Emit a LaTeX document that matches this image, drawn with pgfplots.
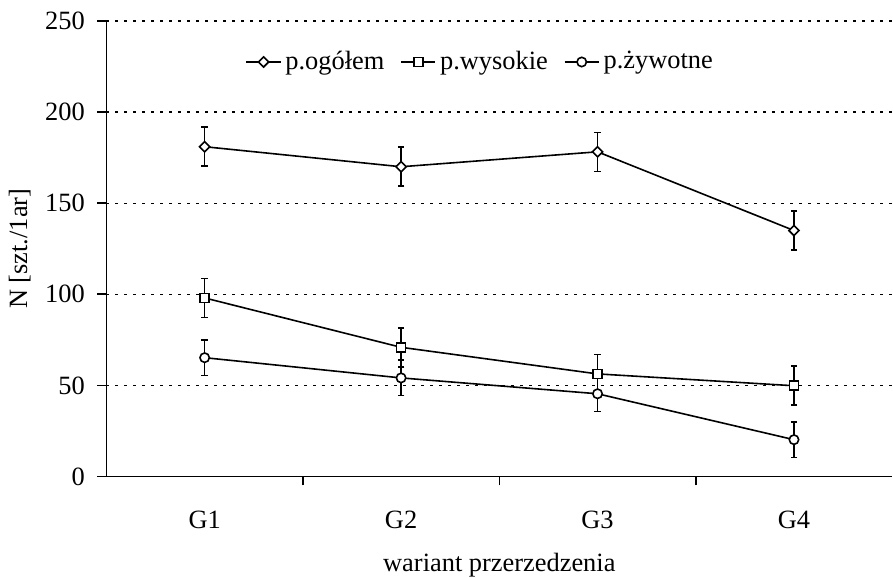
\documentclass[border=0pt]{standalone}
\usepackage{fontspec}
\setmainfont{Liberation Serif}
\usepackage{pgfplots}
\pgfplotsset{compat=1.18}
\usepackage{pgfplotstable}
\pgfplotstableread{
x y e
1 181.0 10.7
2 170.0 10.7
3 178.2 10.7
4 135.0 10.7
}\ogolem
\pgfplotstableread{
x y e
1 98.0 10.7
2 70.9 10.7
3 56.3 10.7
4 49.8 10.7
}\wysokie
\pgfplotstableread{
x y e
1 65.2 9.7
2 54.1 9.7
3 45.4 9.7
4 20.2 9.7
}\zywotne
\begin{document}
\fontsize{13.2}{16}\selectfont
\begin{tikzpicture}
\begin{axis}[
  scale only axis,
  width=393pt, height=227.8pt,
  xmin=0.5, xmax=4.5, ymin=0, ymax=250,
  ytick={0,50,100,150,200,250},
  /pgf/number format/assume math mode=true,
  axis x line*=bottom, axis y line*=left,
  axis line style={line width=0.8pt, -},
  xtick={1.5,2.5,3.5}, xticklabels={},
  extra x ticks={1,2,3,4},
  extra x tick labels={G1,G2,G3,G4},
  extra x tick style={major tick length=0pt, grid=none, xticklabel style={yshift=-12.5pt}},
  tick align=outside, major tick length=4.5pt,
  tick style={black, line width=0.8pt},
  ymajorgrids, grid style={black, line width=0.6pt, dash pattern=on 1.5pt off 3pt},
  yticklabel style={xshift=-1.7pt},
  ylabel={N [szt./1ar]}, xlabel={wariant przerzedzenia},
  ylabel style={yshift=-1.7pt},
  xlabel style={inner sep=0pt, yshift=-3.5pt},
  legend columns=3,
  legend style={at={(0.477,0.91)}, anchor=center, draw=none, fill=none,
    /tikz/every even column/.append style={column sep=6pt}},
]
\addplot[black, line width=0.8pt, mark=square*, mark options={fill=white, solid, rotate=45, mark size=1.8pt},
  error bars/.cd, y dir=both, y explicit,
  error bar style={solid, line width=0.8pt, black},
  error mark options={rotate=90, mark size=1.6pt, line width=0.8pt, black}]
  table[x=x, y=y, y error=e] {\ogolem};
\addlegendentry{p.ogółem}
\addplot[black, line width=0.8pt, mark=square*, mark options={fill=white, solid, mark size=2.25pt},
  error bars/.cd, y dir=both, y explicit,
  error bar style={solid, line width=0.8pt, black},
  error mark options={rotate=90, mark size=1.6pt, line width=0.8pt, black}]
  table[x=x, y=y, y error=e] {\wysokie};
\addlegendentry{p.wysokie}
\addplot[black, line width=0.8pt, mark=*, mark options={fill=white, solid, mark size=2.35pt},
  error bars/.cd, y dir=both, y explicit,
  error bar style={solid, line width=0.8pt, black},
  error mark options={rotate=90, mark size=1.6pt, line width=0.8pt, black}]
  table[x=x, y=y, y error=e] {\zywotne};
\addlegendentry{p.żywotne}
\end{axis}
\path ([yshift=10.5pt]current axis.north);
\end{tikzpicture}
\end{document}
